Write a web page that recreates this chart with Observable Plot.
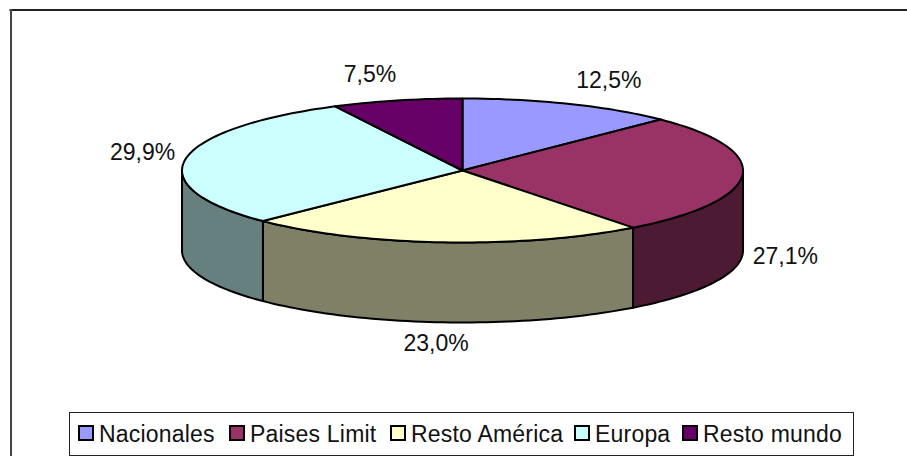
<!DOCTYPE html>
<html><head><meta charset="utf-8">
<script src="https://cdn.jsdelivr.net/npm/d3@7"></script>
<script src="https://cdn.jsdelivr.net/npm/@observablehq/plot@0.6"></script>
<style>
html,body{margin:0;padding:0;background:#fff;overflow:hidden}
#wrap{position:relative;width:907px;height:456px;font-family:"Liberation Sans",Arial,sans-serif}
#legend{position:absolute;left:69px;top:412px;width:785px;height:44px;box-sizing:border-box;border:1.5px solid #222;background:#fff;font-size:23px;letter-spacing:.2px;color:#111;white-space:nowrap}
#legend .sw{position:absolute;top:12px;width:16px;height:16px;border:2px solid #000;box-sizing:border-box}
#legend .tx{position:absolute;top:8px;line-height:26px}
</style></head><body><div id="wrap"></div>
<script>
const categories = ["Nacionales","Paises Limit","Resto América","Europa","Resto mundo"];
const shares = [12.5,27.1,23.0,29.9,7.5];
const shareLabels = ["12,5%","27,1%","23,0%","29,9%","7,5%"];
const topColors = ["#9999FF","#993366","#FFFFCC","#CCFFFF","#660066"];
const wallColors = ["#4D4D80","#4D1A33","#808066","#668080","#330033"];
const labelOffsets = [[39,-23],[43,81],[-7,101],[-43,-6],[-27,-26]];
const legendLefts = [8,159,320,504,612];
const depth = 80/72;

const total = d3.sum(shares);
let acc = 0;
const slices = categories.map((name,i)=>{
  const a0 = acc/total*360; acc += shares[i]; const a1 = acc/total*360;
  return {name,a0,a1,i};
});
const rad = d=>d*Math.PI/180;
const pt = (a,z=0)=>({x:Math.sin(rad(a)),y:Math.cos(rad(a))-z});
const arc = (a0,a1,z=0)=>{
  const n = Math.max(2,Math.ceil((a1-a0)/1.5));
  return d3.range(n+1).map(k=>pt(a0+(a1-a0)*k/n,z));
};
const sty = {x:"x",y:"y",stroke:"#000",strokeWidth:2,strokeLinejoin:"round",curve:"linear"};
const marks = [
  Plot.frame({anchor:"top",stroke:"#222",strokeWidth:2,insetTop:9.5,insetLeft:10}),
  Plot.frame({anchor:"left",stroke:"#444",strokeWidth:2,insetTop:9.5,insetLeft:10.5})
];
for (const s of slices){
  const lo = Math.max(s.a0,90), hi = Math.min(s.a1,270);
  if (hi>lo){
    const poly = [...arc(lo,hi,0),...arc(lo,hi,depth).reverse()];
    poly.push(poly[0]);
    marks.push(Plot.line(poly,{...sty,fill:wallColors[s.i]}));
  }
}
for (const s of slices){
  const poly = [{x:0,y:0},...arc(s.a0,s.a1),{x:0,y:0}];
  marks.push(Plot.line(poly,{...sty,fill:topColors[s.i]}));
}
slices.forEach((s,i)=>{
  const m = pt((s.a0+s.a1)/2);
  marks.push(Plot.text([m],{x:"x",y:"y",text:()=>shareLabels[i],dx:labelOffsets[i][0],dy:labelOffsets[i][1],fontSize:23,fill:"#111"}));
});
const chart = Plot.plot({
  width:907,height:456,margin:0,
  style:{background:"#fff",fontFamily:'"Liberation Sans",Arial,sans-serif',position:"absolute",left:0,top:0},
  x:{axis:null,domain:[-1,1],range:[181.5,742.5]},
  y:{axis:null,domain:[-1,1],range:[242,98]},
  marks
});
const wrap = document.getElementById("wrap");
wrap.appendChild(chart);
const leg = document.createElement("div");
leg.id="legend";
categories.forEach((c,i)=>{
  const sw=document.createElement("span");sw.className="sw";sw.style.background=topColors[i];sw.style.left=legendLefts[i]+"px";
  const tx=document.createElement("span");tx.className="tx";tx.textContent=c;tx.style.left=(legendLefts[i]+21)+"px";
  leg.appendChild(sw);leg.appendChild(tx);
});
wrap.appendChild(leg);
</script></body></html>
